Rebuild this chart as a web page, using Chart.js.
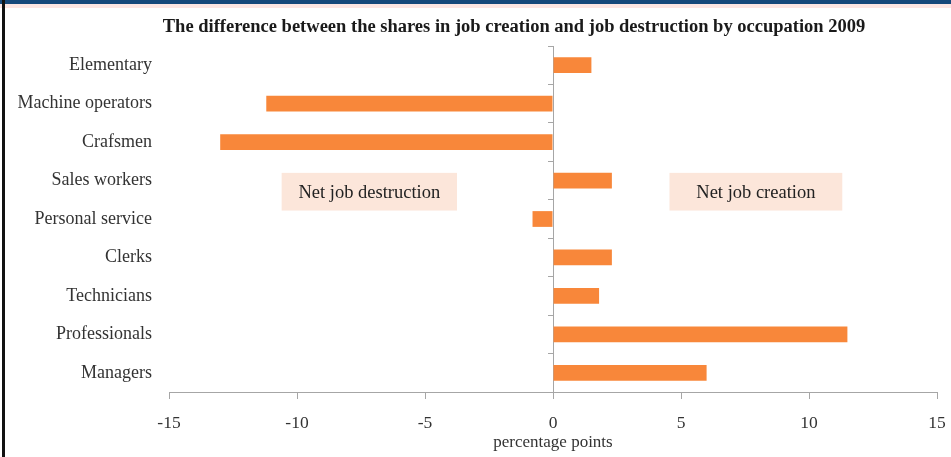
<!DOCTYPE html>
<html>
<head>
<meta charset="utf-8">
<script src="https://cdn.jsdelivr.net/npm/chart.js@4.4.1/dist/chart.umd.min.js"></script>
<style>
html,body{margin:0;padding:0;background:#fff;}
#wrap{position:relative;width:951px;height:457px;}
canvas{display:block;}
</style>
</head>
<body>
<div id="wrap"><canvas id="c" width="951" height="457"></canvas></div>
<script>
const titleText = "The difference between the shares in job creation and job destruction by occupation 2009";
const categories = ["Elementary","Machine operators","Crafsmen","Sales workers","Personal service","Clerks","Technicians","Professionals","Managers"];
const values = [1.5, -11.2, -13.0, 2.3, -0.8, 2.3, 1.8, 11.5, 6.0];
const xTicks = [-15, -10, -5, 0, 5, 10, 15];
const xAxisTitle = "percentage points";
const noteLabels = ["Net job destruction", "Net job creation"];
const noteFrom = [-10.6, 4.55];
const noteTo = [-3.75, 11.3];

const SERIF = "'Liberation Serif', 'DejaVu Serif', serif";
const GRAY = "#a6a6a6";

const decor = {
  id: 'decor',
  beforeDraw(chart) {
    const ctx = chart.ctx;
    ctx.save();
    ctx.fillStyle = '#ffffff';
    ctx.fillRect(0, 0, chart.width, chart.height);
    ctx.fillStyle = '#17497a';
    ctx.fillRect(0, 0, chart.width, 4);
    ctx.fillStyle = '#fde6e2';
    ctx.fillRect(0, 4, chart.width, 4);
    ctx.fillStyle = '#111111';
    ctx.fillRect(2, 0, 3, chart.height);
    ctx.restore();
  },
  beforeDatasetsDraw(chart) {
    const ctx = chart.ctx;
    const xs = chart.scales.x, ys = chart.scales.y;
    const y1 = ys.getPixelForValue(2.8), y2 = ys.getPixelForValue(3.78);
    ctx.save();
    ctx.font = "18.5px " + SERIF;
    ctx.textAlign = 'center';
    ctx.textBaseline = 'middle';
    for (let i = 0; i < noteLabels.length; i++) {
      const a = xs.getPixelForValue(noteFrom[i]), b = xs.getPixelForValue(noteTo[i]);
      ctx.fillStyle = '#fce6da';
      ctx.fillRect(a, y1, b - a, y2 - y1);
      ctx.fillStyle = '#222222';
      ctx.fillText(noteLabels[i], (a + b) / 2, (y1 + y2) / 2 + 1);
    }
    ctx.restore();
  },
  afterDraw(chart) {
    const ctx = chart.ctx;
    ctx.save();
    ctx.font = "bold 18.5px " + SERIF;
    ctx.fillStyle = '#1a1a1a';
    ctx.textAlign = 'center';
    ctx.textBaseline = 'middle';
    ctx.fillText(titleText, 514, 27);
    ctx.restore();
  }
};

new Chart(document.getElementById('c'), {
  type: 'bar',
  data: {
    labels: categories,
    datasets: [{
      data: values,
      backgroundColor: '#f8873a',
      borderWidth: 0,
      categoryPercentage: 1,
      barPercentage: 0.41
    }]
  },
  plugins: [decor],
  options: {
    indexAxis: 'y',
    responsive: false,
    animation: false,
    devicePixelRatio: 1,
    layout: { padding: { top: 46, left: 0, right: 14, bottom: 0 } },
    plugins: { legend: { display: false }, tooltip: { enabled: false }, title: { display: false } },
    scales: {
      x: {
        type: 'linear',
        min: -15, max: 15,
        afterBuildTicks(scale) { scale.ticks = xTicks.map(v => ({ value: v })); },
        afterFit(scale) { scale.height = 457 - 392; scale.paddingLeft = 0; scale.paddingRight = 0; },
        grid: { display: true, drawOnChartArea: false, drawTicks: true, tickLength: 7, color: GRAY, lineWidth: 1 },
        border: { display: true, color: GRAY, width: 1 },
        ticks: { padding: 14, color: '#333333', font: { family: SERIF, size: 17.5 } },
        title: { display: true, text: xAxisTitle, color: '#333333', font: { family: SERIF, size: 17 }, padding: { top: 0, bottom: 4 } }
      },
      y: {
        type: 'category',
        offset: true,
        afterFit(scale) { scale.width = 169; },
        grid: { display: false, offset: true },
        border: { display: false },
        ticks: { padding: 9, color: '#333333', font: { family: SERIF, size: 18 } }
      },
      y0: {
        type: 'category',
        position: { x: 0 },
        offset: true,
        grid: { display: true, offset: true, drawOnChartArea: false, drawTicks: true, tickLength: 5, color: GRAY },
        border: { display: true, color: GRAY, width: 1 },
        ticks: { display: false }
      }
    }
  }
});
</script>
</body>
</html>
